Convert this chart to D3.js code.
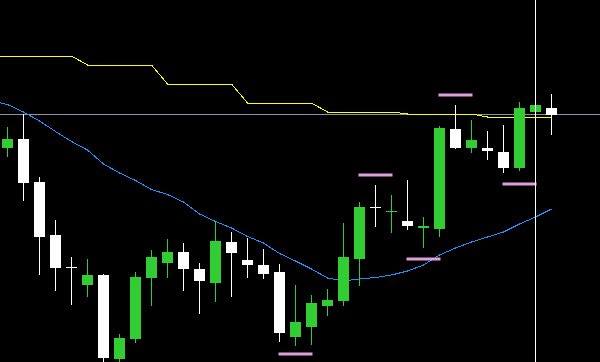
<!DOCTYPE html>
<html lang="en">
<head>
    <meta charset="UTF-8">
    <title>Candles</title>
    <script src="https://cdn.jsdelivr.net/npm/d3@7"></script>
    <style>
        body { margin: 0; background: #000; }
        svg { display: block; }
    </style>
</head>
<body>
<script>
    // one row per bar: open, high, low, close
    var opens  = [1.3414,1.3423,1.3380,1.3327,1.3295,1.3277,1.3287,1.3203,1.3223,1.3284,1.3299,1.3310,1.3293,1.3279,1.3320,1.3302,1.3297,1.3290,
                  1.3225,1.3235,1.3256,1.3261,1.3303,1.3355,1.3350,1.3341,1.3334,1.3333,1.3433,1.3414,1.3414,1.3410,1.3394,1.3450,1.3454];
    var highs  = [1.3435,1.3448,1.3385,1.3342,1.3305,1.3303,1.3288,1.3228,1.3290,1.3312,1.3323,1.3319,1.3299,1.3341,1.3330,1.3324,1.3313,1.3298,
                  1.3277,1.3267,1.3273,1.3339,1.3360,1.3377,1.3367,1.3382,1.3345,1.3436,1.3457,1.3442,1.3431,1.3437,1.3460,1.3458,1.3468];
    var lows   = [1.3405,1.3361,1.3287,1.3271,1.3257,1.3265,1.3199,1.3199,1.3219,1.3256,1.3284,1.3271,1.3248,1.3260,1.3265,1.3284,1.3283,1.3220,
                  1.3216,1.3217,1.3246,1.3256,1.3276,1.3335,1.3329,1.3332,1.3314,1.3325,1.3413,1.3409,1.3402,1.3389,1.3391,1.3449,1.3427];
    var closes = [1.3423,1.3379,1.3325,1.3294,1.3294,1.3287,1.3204,1.3224,1.3285,1.3305,1.3310,1.3293,1.3281,1.3321,1.3309,1.3297,1.3288,1.3229,
                  1.3240,1.3259,1.3262,1.3305,1.3355,1.3354,1.3351,1.3336,1.3336,1.3434,1.3414,1.3422,1.3411,1.3394,1.3454,1.3457,1.3447];

    // indicator lines start one bar before the first visible bar
    var lineStart = -1;
    var stepLine = [1.3506,1.3506,1.3506,1.3506,1.3506,1.3506,1.3497,1.3497,1.3497,1.3497,1.3497,1.3478,1.3478,1.3478,1.3478,1.3478,
                    1.3459,1.3459,1.3459,1.3459,1.3459,1.3450,1.3450,1.3450,1.3450,1.3450,1.3448,1.3448,1.3448,1.3448,1.3448,
                    1.3445,1.3445,1.3445,1.3445,1.3445];
    var maLine = [1.34610,1.34575,1.34500,1.34410,1.34305,1.34205,1.34120,1.33980,1.33890,1.33815,1.33725,1.33675,1.33600,1.33480,
                  1.33405,1.33340,1.33255,1.33190,1.33085,1.33010,1.32930,1.32840,1.32810,1.32830,1.32845,1.32870,1.32910,1.32970,
                  1.33070,1.33140,1.33200,1.33250,1.33300,1.33380,1.33450,1.33530];

    // pink swing markers: bar index and price
    var markIdx   = [18, 23, 26, 28, 32];
    var markPrice = [1.3208, 1.3387, 1.3303, 1.3467, 1.3378];

    var levelPrice = 1.34475;
    var cursorIdx = 33;

    var width = 600, height = 362;

    var svg = d3.select("body").append("svg")
        .attr("width", width)
        .attr("height", height)
        .style("background", "#000");

    var x = d3.scaleLinear().domain([0, 34]).range([7.5, 551.5]);
    var y = d3.scaleLinear().domain([1.3200, 1.3562]).range([362, 0]);

    var bars = d3.range(opens.length).map(function(i) {
        return {i: i, o: opens[i], h: highs[i], l: lows[i], c: closes[i]};
    });
    function col(d) { return d.c >= d.o ? "#32cd32" : "#ffffff"; }

    // level line behind everything
    svg.append("line")
        .attr("x1", 0).attr("x2", width)
        .attr("y1", y(levelPrice)).attr("y2", y(levelPrice))
        .attr("stroke", "#8a96a3")
        .attr("stroke-width", 1);

    var line = d3.line()
        .x(function(d, k) { return x(k + lineStart); })
        .y(function(d) { return y(d); });

    svg.append("path")
        .datum(stepLine)
        .attr("d", line)
        .attr("fill", "none")
        .attr("stroke", "#ffff00")
        .attr("stroke-width", 1)
        .attr("shape-rendering", "crispEdges");

    svg.append("path")
        .datum(maLine)
        .attr("d", line)
        .attr("fill", "none")
        .attr("stroke", "#1e90ff")
        .attr("stroke-width", 1)
        .attr("shape-rendering", "crispEdges");

    // wicks
    svg.selectAll(".wick")
        .data(bars)
        .enter().append("line")
        .attr("class", "wick")
        .attr("x1", function(d) { return x(d.i); })
        .attr("x2", function(d) { return x(d.i); })
        .attr("y1", function(d) { return y(d.h); })
        .attr("y2", function(d) { return y(d.l); })
        .attr("stroke", col)
        .attr("stroke-width", 1);

    // bodies
    svg.selectAll(".body")
        .data(bars)
        .enter().append("rect")
        .attr("class", "body")
        .attr("x", function(d) { return x(d.i) - 5.5; })
        .attr("y", function(d) { return Math.round(y(Math.max(d.o, d.c))); })
        .attr("width", 11)
        .attr("height", function(d) { return Math.max(1, Math.round(Math.abs(y(d.o) - y(d.c)))); })
        .attr("fill", col);

    svg.selectAll(".mark")
        .data(markIdx)
        .enter().append("line")
        .attr("class", "mark")
        .attr("x1", function(d) { return x(d - 1) - 1; })
        .attr("x2", function(d) { return x(d + 1) + 1; })
        .attr("y1", function(d, k) { return y(markPrice[k]); })
        .attr("y2", function(d, k) { return y(markPrice[k]); })
        .attr("stroke", "#dda0dd")
        .attr("stroke-width", 3);

    // cursor
    svg.append("line")
        .attr("x1", x(cursorIdx)).attr("x2", x(cursorIdx))
        .attr("y1", 0).attr("y2", height)
        .attr("stroke", "#ffffff")
        .attr("stroke-width", 1);
</script>
</body>
</html>
